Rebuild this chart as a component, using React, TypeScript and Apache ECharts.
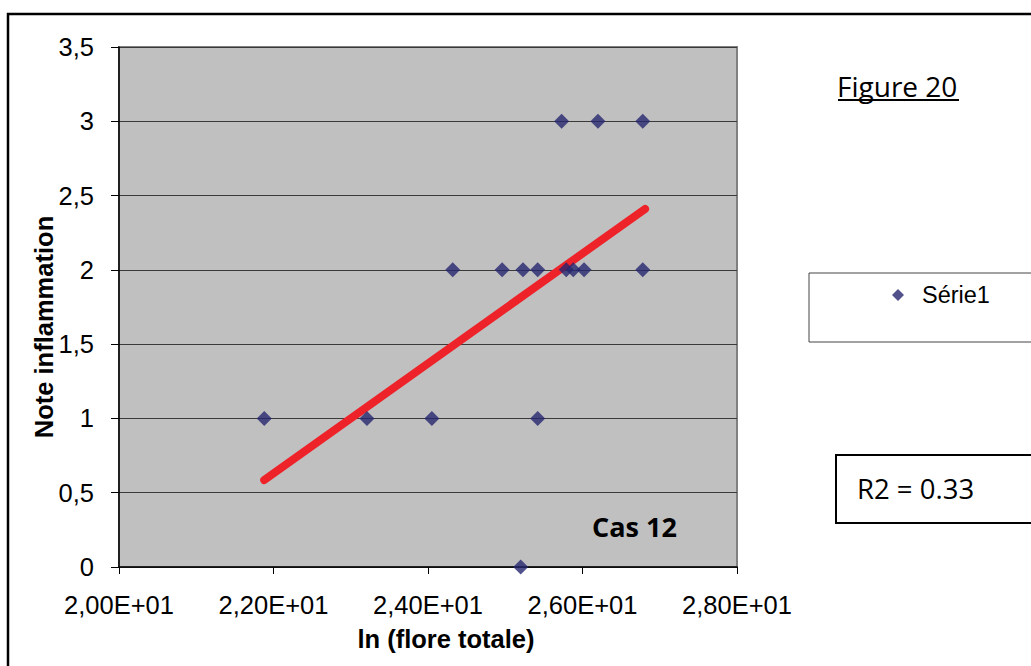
import React, { useEffect, useRef } from "react";
import * as echarts from "echarts";

// Scatter points: ln(flore totale) vs note inflammation
const xValues = [21.88, 23.21, 24.05, 25.42, 24.32, 24.96, 25.23, 25.42, 25.79, 25.88, 26.02, 26.78, 25.73, 26.2, 26.78, 25.2];
const yValues = [1, 1, 1, 1, 2, 2, 2, 2, 2, 2, 2, 2, 3, 3, 3, 0];

// Trend line end points
const trendX = [21.88, 26.81];
const trendY = [0.585, 2.41];

const xTickLabels = ["2,00E+01", "2,20E+01", "2,40E+01", "2,60E+01", "2,80E+01"];
const yTickLabels = ["0", "0,5", "1", "1,5", "2", "2,5", "3", "3,5"];

const seriesName = "Série1";
const xTitle = "ln (flore totale)";
const yTitle = "Note inflammation";

export default function App() {
  const ref = useRef<HTMLDivElement>(null);

  useEffect(() => {
    if (!ref.current) return;
    const chart = echarts.init(ref.current, undefined, { renderer: "svg" });
    const arial = "'Liberation Sans', Arial, sans-serif";
    const calibri = "'Open Sans', sans-serif";

    chart.setOption({
      animation: false,
      backgroundColor: "#ffffff",
      grid: {
        left: 119,
        top: 47,
        right: 1031 - 737,
        bottom: 666 - 567,
        show: true,
        backgroundColor: "#c0c0c0",
        borderColor: "#808080",
        borderWidth: 2,
      },
      xAxis: {
        type: "value",
        min: 20,
        max: 28,
        interval: 2,
        axisLine: { show: true, onZero: false, lineStyle: { color: "#000", width: 1.5 } },
        axisTick: { show: true, length: 7, lineStyle: { color: "#000" } },
        axisLabel: {
          fontFamily: arial,
          fontSize: 25.5,
          color: "#000",
          margin: 25,
          formatter: (v: number) => xTickLabels[Math.round((v - 20) / 2)] ?? "",
        },
        splitLine: { show: false },
      },
      yAxis: {
        type: "value",
        min: 0,
        max: 3.5,
        interval: 0.5,
        axisLine: { show: true, lineStyle: { color: "#000", width: 1.5 } },
        axisTick: { show: true, length: 8, lineStyle: { color: "#000" } },
        axisLabel: {
          fontFamily: arial,
          fontSize: 25.5,
          color: "#000",
          margin: 25,
          formatter: (v: number) => yTickLabels[Math.round(v / 0.5)] ?? "",
        },
        splitLine: { show: true, lineStyle: { color: "#3a3a3a", width: 1 } },
      },
      legend: {
        data: [seriesName],
        left: 887,
        top: 278,
        icon: "diamond",
        itemWidth: 12,
        itemHeight: 12,
        itemGap: 10,
        textStyle: { fontFamily: arial, fontSize: 23.5, color: "#000", padding: [0, 0, 0, 13] },
      },
      series: [
        {
          name: seriesName,
          type: "scatter",
          symbol: "diamond",
          symbolSize: 15,
          itemStyle: { color: "#25256f" },
          data: xValues.map((x, i) => [x, yValues[i]]),
          z: 3,
        },
        {
          name: "trend",
          type: "line",
          showSymbol: false,
          symbol: "none",
          lineStyle: { color: "#ee2229", width: 8, cap: "round" },
          data: trendX.map((x, i) => [x, trendY[i]]),
          z: 2,
        },
      ],
      graphic: [
        {
          type: "rect",
          shape: { x: 8, y: 14, width: 1060, height: 700 },
          style: { fill: "none", stroke: "#000", lineWidth: 2.5 },
          silent: true,
        },
        {
          type: "rect",
          shape: { x: 809, y: 273, width: 260, height: 69 },
          style: { fill: "none", stroke: "#444", lineWidth: 1 },
          silent: true,
        },
        {
          type: "rect",
          shape: { x: 836, y: 455, width: 240, height: 68 },
          style: { fill: "none", stroke: "#000", lineWidth: 2 },
          silent: true,
        },
        {
          type: "text",
          x: 44,
          y: 327,
          rotation: Math.PI / 2,
          style: {
            text: yTitle,
            fontFamily: arial,
            fontSize: 25.5,
            fontWeight: "bold",
            fill: "#000",
            align: "center",
            verticalAlign: "middle",
          },
          silent: true,
        },
        {
          type: "text",
          x: 446,
          y: 639,
          style: {
            text: xTitle,
            fontFamily: arial,
            fontSize: 25.5,
            fontWeight: "bold",
            fill: "#000",
            align: "center",
            verticalAlign: "middle",
          },
          silent: true,
        },
        {
          type: "text",
          x: 837,
          y: 86,
          style: {
            text: "Figure 20",
            fontFamily: calibri,
            fontSize: 28,
            fill: "#000",
            verticalAlign: "middle",
          },
          silent: true,
        },
        {
          type: "line",
          shape: { x1: 838, y1: 100, x2: 959, y2: 100 },
          style: { stroke: "#000", lineWidth: 2 },
          silent: true,
        },
        {
          type: "text",
          x: 857,
          y: 488,
          style: {
            text: "R2 = 0.33",
            fontFamily: calibri,
            fontSize: 27.5,
            fill: "#000",
            verticalAlign: "middle",
          },
          silent: true,
        },
        {
          type: "text",
          x: 592,
          y: 526,
          style: {
            text: "Cas 12",
            fontFamily: calibri,
            fontSize: 27,
            fontWeight: "bold",
            fill: "#000",
            verticalAlign: "middle",
          },
          silent: true,
        },
      ],
    });

    return () => chart.dispose();
  }, []);

  return (
    <div
      ref={ref}
      style={{ position: "absolute", left: 0, top: 0, width: 1031, height: 666 }}
    />
  );
}
